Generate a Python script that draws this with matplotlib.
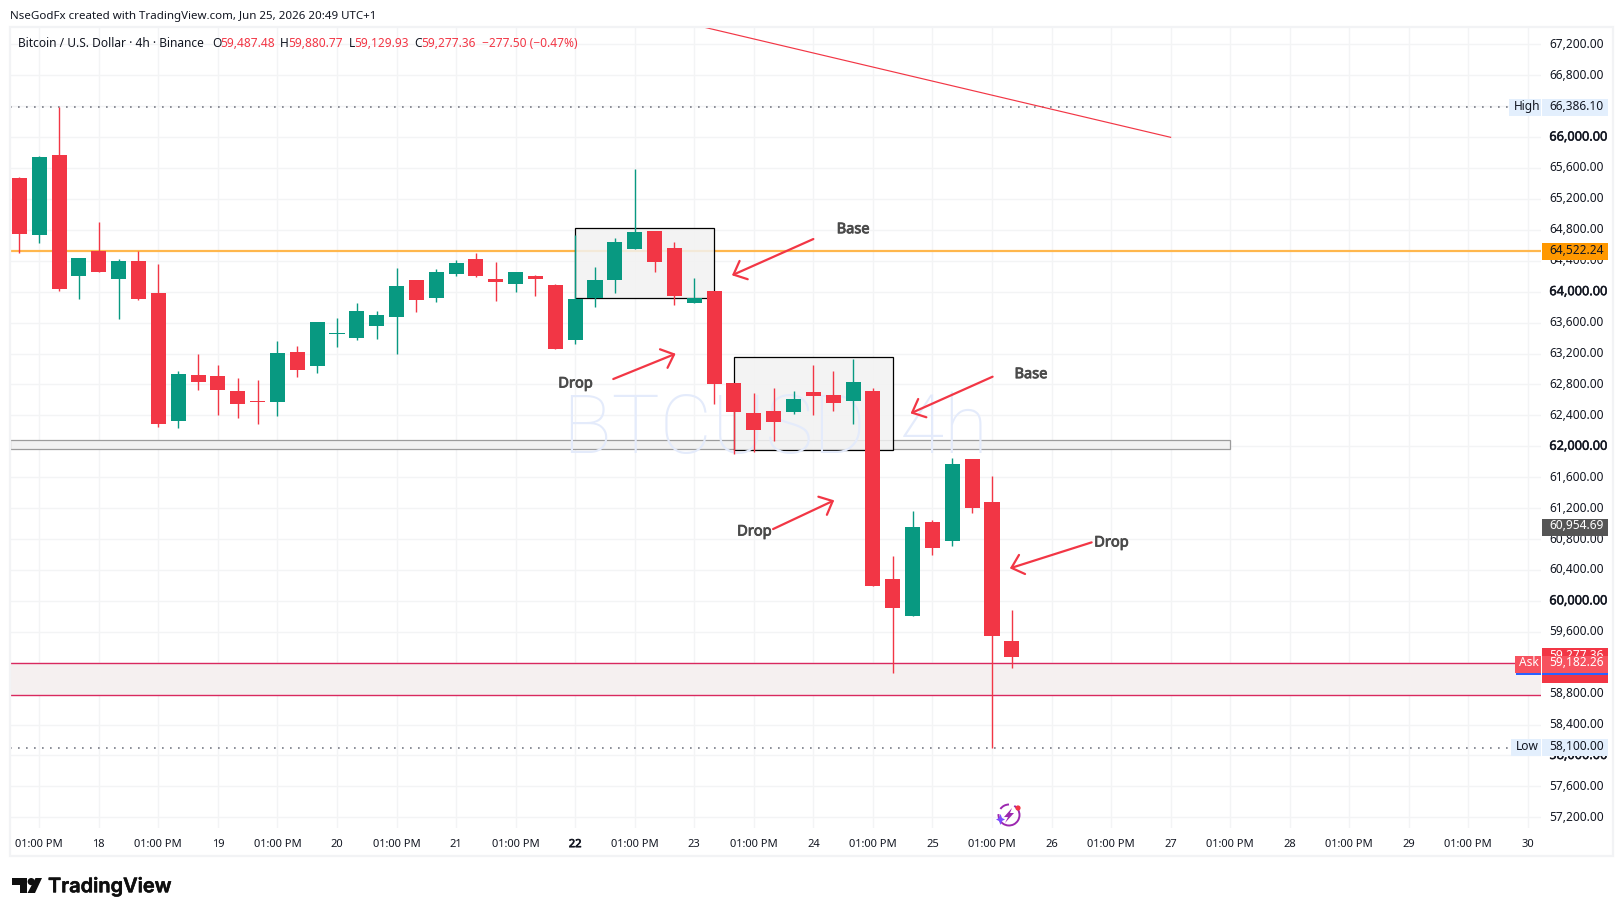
import matplotlib
matplotlib.use('Agg')
import matplotlib.pyplot as plt
import matplotlib.patheffects as pe
from matplotlib.patches import Rectangle, Polygon, Circle, Arc
from matplotlib.transforms import blended_transform_factory, ScaledTranslation

RED = '#f23645'
GREEN = '#089981'
TEXT = '#131722'
GRID = '#f3f4f5'
plt.rcParams['font.family'] = ['Noto Sans', 'DejaVu Sans']

# 4h candles
opens = [65470, 64737, 65768, 64207, 64526, 64168, 64397, 63983, 62331, 62922,
         62909, 62715, 62586, 62577, 63220, 63043, 63457, 63405, 63560, 63677,
         64151, 63922, 64233, 64423, 64164, 64103, 64203, 64086, 63379, 63914,
         64155, 64552, 64785, 64565, 63853, 64009, 62819, 62430, 62456, 62443,
         62702, 62663, 62586, 62715, 60283, 59804, 61020, 60775, 61835, 61279,
         59487.48]
closes = [64750, 65742, 64039, 64436, 64259, 64397, 63909, 62292, 62935, 62836,
          62732, 62551, 62573, 63207, 62991, 63608, 63465, 63750, 63698, 64073,
          63897, 64254, 64371, 64207, 64129, 64254, 64168, 63263, 63905, 64151,
          64642, 64772, 64384, 63948, 63918, 62806, 62443, 62211, 62314, 62612,
          62650, 62560, 62832, 60197, 59908, 60956, 60684, 61771, 61201, 59546,
          59277.36]
highs = [65480, 65755, 66386.10, 64436, 64901, 64423, 64526, 64358, 62974, 63194,
         63051, 62883, 62857, 63362, 63297, 63608, 63659, 63853, 63750, 64306,
         64151, 64293, 64410, 64500, 64384, 64254, 64216, 64099, 64733, 64319,
         64694, 65587, 64785, 64642, 64177, 64009, 62819, 62689, 62754, 62715,
         63051, 62974, 63129, 62754, 60581, 61163, 61046, 61848, 61835, 61615,
         59880.77]
lows = [64504, 64634, 64013, 63909, 64259, 63651, 63897, 62254, 62241, 62732,
        62409, 62370, 62292, 62396, 62900, 62952, 63289, 63379, 63392, 63198,
        63741, 63871, 64207, 64194, 63884, 64000, 63948, 63263, 63327, 63806,
        63987, 64552, 64254, 63828, 63853, 62547, 61900, 61926, 62068, 62417,
        62405, 62456, 62288, 60197, 59071, 59804, 60594, 60710, 61137, 58100,
        59129.93]

price_ticks = list(range(57200, 67600, 400))
bold_prices = [58000, 60000, 62000, 64000, 66000]
day_labels = ['18', '19', '20', '21', '22', '23', '24', '25', '26', '27', '28', '29', '30']
noon_label = '01:00 PM'

high_price = 66386.10
low_price = 58100.00
orange_price = 64522.24
last_close = 59277.36
ask_price = 59182.26
mid_price = 60954.69

zone_gray = (61960, 62077)
zone_pink = (58778, 59196)
base_boxes = [(28, 35, 63914, 64819), (36, 44, 61948, 63150)]
trend_line = ([34.45, 58.0], [67424, 65997])
arrows = [((40.0, 64681), (35.9, 64212)),
          ((29.92, 62870), (33.06, 63197)),
          ((49.03, 62900), (44.9, 62426)),
          ((37.97, 60929), (41.05, 61301)),
          ((54.02, 60757), (49.9, 60421))]
notes = [('Base', 42.0, 64802), ('Base', 50.96, 62927), ('Drop', 28.02, 62806),
         ('Drop', 37.03, 60891), ('Drop', 55.02, 60749)]

fig = plt.figure(figsize=(16.23, 9.16), dpi=100)
ax = fig.add_axes([10 / 1623, 88 / 916, 1531 / 1623, 801 / 916])
ax.set_xlim(-0.474, 76.66)
ax.set_ylim(57062, 67424)
for s in ax.spines.values():
    s.set_visible(False)

# grid and axis labels
xticks = list(range(1, 77, 3))
xlabels = []
days = iter(day_labels)
for t in xticks:
    xlabels.append(next(days) if (t - 4) % 6 == 0 else noon_label)
ax.set_xticks(xticks, xlabels)
ax.set_yticks(price_ticks, [f'{p:,.2f}' for p in price_ticks])
ax.yaxis.tick_right()
ax.tick_params(length=0, labelcolor=TEXT)
ax.tick_params(axis='y', pad=6, labelsize=8.6)
ax.tick_params(axis='x', pad=8, labelsize=8.0)
ax.grid(True, color=GRID, lw=1.0)
ax.set_axisbelow(True)
nudge = ScaledTranslation(0, 1.5 / 100, fig.dpi_scale_trans)
for t, p in zip(ax.get_yticklabels(), price_ticks):
    t.set_transform(t.get_transform() + nudge)
    if p in bold_prices:
        t.set_fontsize(9.2)
        t.set_path_effects([pe.withStroke(linewidth=0.35, foreground=TEXT)])
for t in ax.get_xticklabels():
    if t.get_text() == '22':
        t.set_path_effects([pe.withStroke(linewidth=0.5, foreground=TEXT)])

ax.text(38.1, 61913, 'BTCUSD, 4h', color='#e4ebfb', fontsize=58, ha='center', va='baseline',
        family='Roboto', fontweight='light', zorder=2)

# zones and lines
ax.axhspan(*zone_pink, color='#f5f0f0', lw=0, zorder=0.8)
ax.axhline(zone_pink[0], color='#d9295f', lw=1.0, zorder=1)
ax.axhline(zone_pink[1], color='#d9295f', lw=1.0, zorder=1)
ax.add_patch(Rectangle((-0.474, zone_gray[0]), 61.474, zone_gray[1] - zone_gray[0],
                       fc='#f2f2f2', ec='#9c9c9c', lw=0.9, zorder=1))
ax.axhline(orange_price, color='#ffb74d', lw=1.6, zorder=1.1)
for hl in (high_price, low_price):
    ax.plot([-0.474, 75.1], [hl, hl], color='#787b86', lw=1.2, ls=(0, (1, 3.8)), zorder=1.2)
ax.plot(*trend_line, color=RED, lw=0.85, zorder=4, clip_on=False)

for x0, x1, y0, y1 in base_boxes:
    ax.add_patch(Rectangle((x0, y0), x1 - x0, y1 - y0, fc='#f2f2f2', ec='none', alpha=0.85, zorder=1.5))
    ax.add_patch(Rectangle((x0, y0), x1 - x0, y1 - y0, fc='none', ec='black', lw=0.9, zorder=1.6))

# candles
idx = list(range(len(opens)))
colors = [GREEN if c >= o else RED for o, c in zip(opens, closes)]
ax.vlines(idx, lows, highs, colors=colors, lw=1.0, zorder=3)
ax.bar(idx, [abs(c - o) for o, c in zip(opens, closes)], bottom=[min(o, c) for o, c in zip(opens, closes)],
       width=0.76, color=colors, lw=0, zorder=3.1)

# hand drawn arrows and notes
for start, end in arrows:
    ax.annotate('', xy=end, xytext=start, zorder=4,
                arrowprops=dict(arrowstyle='->,head_length=0.8,head_width=0.72', color=RED, lw=1.6,
                                shrinkA=0, shrinkB=0))
for txt, x, y in notes:
    ax.text(x, y, txt, color='#4a4a4a', fontsize=10.5, ha='center', va='center', zorder=4.5,
            path_effects=[pe.withStroke(linewidth=0.6, foreground='#4a4a4a')])

# overlay in pixels for the page furniture
over = fig.add_axes([0, 0, 1, 1], zorder=10)
over.set_xlim(0, 1623)
over.set_ylim(916, 0)
over.axis('off')
over.patch.set_alpha(0)
over.add_patch(Rectangle((10, 27), 1603, 829, fc='none', ec='#f2f3f5', lw=1.6))

over.text(10, 17, 'NseGodFx created with TradingView.com, Jun 25, 2026 20:49 UTC+1', color=TEXT,
          fontsize=8.3, va='center')
legend_parts = [(18, 'Bitcoin / U.S. Dollar · 4h · Binance', TEXT), (212, 'O', TEXT), (220.6, '59,487.48', RED),
                (280, 'H', TEXT), (288.6, '59,880.77', RED), (348.7, 'L', TEXT), (354.5, '59,129.93', RED),
                (414.4, 'C', TEXT), (421.5, '59,277.36', RED), (482.4, '−277.50 (−0.47%)', RED)]
for x, txt, col in legend_parts:
    over.text(x, 43.5, txt, color=col, fontsize=8.6, va='center')

# price tags, x in pixels, y on the price scale
tr = blended_transform_factory(over.transData, ax.transData)
TAG_H = 110
order = [5]


def tag(x0, x1, price, fc, text=None, tc=TEXT, off=7):
    order[0] += 1
    over.add_patch(Rectangle((x0, price - TAG_H), x1 - x0, 2 * TAG_H, fc=fc, ec='none', transform=tr,
                             zorder=order[0]))
    if text:
        order[0] += 1
        over.text(x0 + off, price + 15, text, color=tc, fontsize=8.6, va='center', transform=tr,
                  zorder=order[0], clip_on=True)


tag(1542, 1608, high_price, '#e3effd', f'{high_price:,.2f}')
tag(1509, 1541, high_price, '#e3effd', 'High', off=4.7)
tag(1542, 1608, low_price, '#e3effd', f'{low_price:,.2f}')
tag(1511, 1541, low_price, '#e3effd', 'Low', off=4.7)
tag(1542, 1608, orange_price, '#ff9800', f'{orange_price:,.2f}')
tag(1542, 1608, mid_price, '#555555', f'{mid_price:,.2f}', 'white')
tag(1542, 1608, last_close, RED, f'{last_close:,.2f}', 'white')
tag(1542, 1608, ask_price - 130, RED)
tag(1542, 1608, ask_price, '#f7525f', f'{ask_price:,.2f}', 'white')
tag(1515, 1541, ask_price, '#f7525f', 'Ask', 'white', off=4)
over.add_patch(Rectangle((1542, ask_price - 140), 66, 30, fc='#2962ff', ec='none', transform=tr, zorder=order[0] + 1))
over.add_patch(Rectangle((1516, ask_price - 140), 25, 30, fc='#2962ff', ec='none', transform=tr, zorder=order[0] + 1))

# spark icon near the last candle
over.add_patch(Arc((1009, 815), 21, 21, theta1=-60, theta2=185, color='#9c27b0', lw=1.4))
over.add_patch(Arc((1009, 815), 21, 21, theta1=215, theta2=270, color='#9c27b0', lw=1.4))
over.add_patch(Polygon([(1012, 808), (1004, 817), (1008, 817), (1005, 823), (1014, 813), (1010, 813)],
                       fc='#9c27b0', ec='none'))
over.add_patch(Polygon([(1000.5, 814), (1002, 818), (1005, 819.5), (1002, 821), (1000.5, 825),
                        (999, 821), (996, 819.5), (999, 818)], fc='#7c4dff', ec='none'))
over.add_patch(Circle((1018, 808), 2.6, fc=RED, ec='none'))

# TradingView logo
over.add_patch(Polygon([(12, 878), (27, 878), (27, 893), (19.5, 893), (19.5, 885), (12, 885)], fc='#0f0f0f', ec='none'))
over.add_patch(Circle((31.2, 881.6), 3.6, fc='#0f0f0f', ec='none'))
over.add_patch(Polygon([(35.5, 878), (42, 878), (35, 893), (27.5, 893)], fc='#0f0f0f', ec='none'))
over.text(48, 887, 'TradingView', color='#0f0f0f', fontsize=14.4, family='Inter', fontweight='semibold', va='center',
          path_effects=[pe.withStroke(linewidth=0.4, foreground='#0f0f0f')])

fig.savefig('out.png', dpi=100)
